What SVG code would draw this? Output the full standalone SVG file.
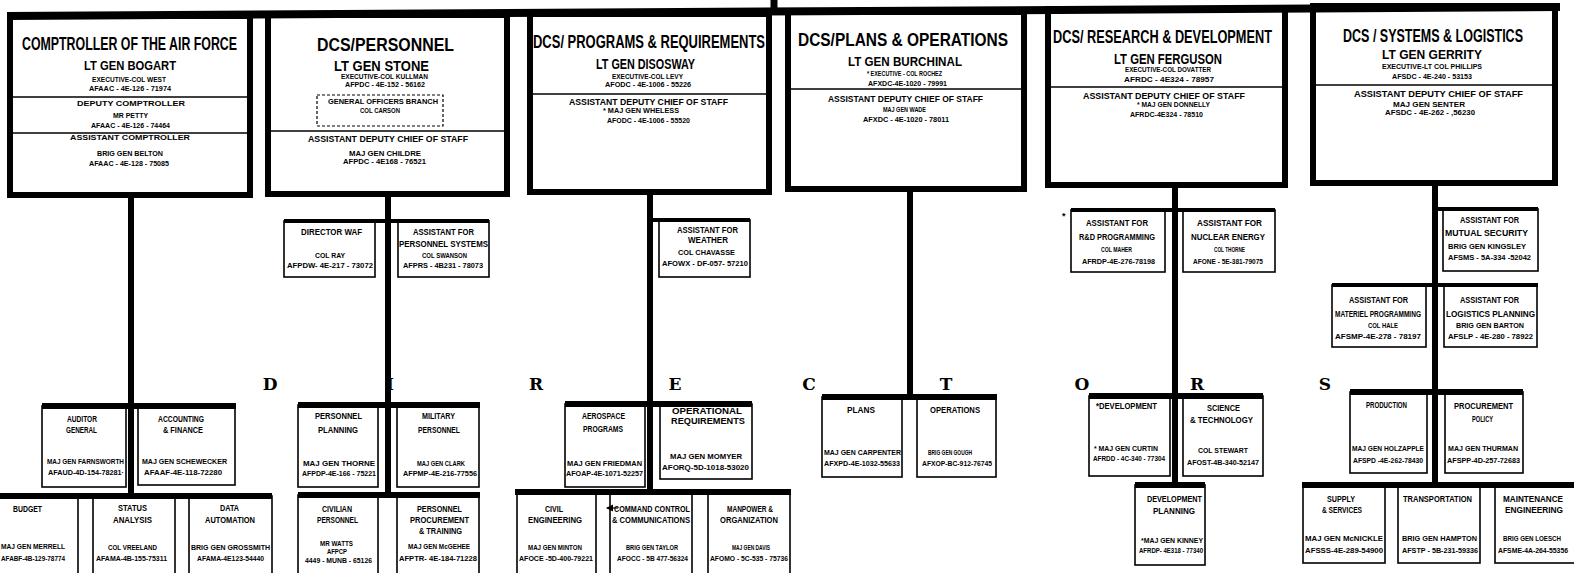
<svg xmlns="http://www.w3.org/2000/svg" width="1574" height="573" viewBox="0 0 1574 573">
<style>
.big{fill:#fff;stroke:#000;stroke-width:6}
.box{fill:#fff;stroke:#000;stroke-width:1.6}
.div{stroke:#000;stroke-width:1.5}
.dash{fill:none;stroke:#000;stroke-width:1.2;stroke-dasharray:3 2}
.bar{stroke:#000;stroke-width:6;fill:none}
.b4{stroke-width:4}
text{font-family:"Liberation Sans",Arial,sans-serif;font-weight:bold;fill:#000}
.T{font-size:12px}
.L{font-family:"DejaVu Serif","Liberation Serif",serif;font-size:17px;text-anchor:middle}
</style>
<defs>
<marker id="ah" markerWidth="6" markerHeight="6" refX="5" refY="3" orient="auto"><path d="M0,0 L6,3 L0,6 z" fill="#000"/></marker>
</defs>
<rect width="1574" height="573" fill="#fff"/>

<g id="comptroller">
<rect class="big" x="10" y="16" width="240" height="179"/>
<line class="div" x1="13" y1="97" x2="247" y2="97"/>
<line class="div" x1="13" y1="133" x2="247" y2="133"/>
<text class="T" transform="translate(22,50) scale(1,1.5)" textLength="215" lengthAdjust="spacingAndGlyphs">COMPTROLLER OF THE AIR FORCE</text>
<text x="84" y="70" font-size="13.5" textLength="92" lengthAdjust="spacingAndGlyphs">LT GEN BOGART</text>
<text x="92" y="82" font-size="7.5" textLength="74" lengthAdjust="spacingAndGlyphs">EXECUTIVE-COL WEST</text>
<text x="89" y="91" font-size="7.5" textLength="82" lengthAdjust="spacingAndGlyphs">AFAAC - 4E-126 - 71974</text>
<text x="77" y="106" font-size="8" textLength="108" lengthAdjust="spacingAndGlyphs">DEPUTY COMPTROLLER</text>
<text x="113" y="118" font-size="7" textLength="35" lengthAdjust="spacingAndGlyphs">MR PETTY</text>
<text x="91" y="128" font-size="7.5" textLength="79" lengthAdjust="spacingAndGlyphs">AFAAC - 4E-126 - 74464</text>
<text x="70" y="140" font-size="8" textLength="120" lengthAdjust="spacingAndGlyphs">ASSISTANT COMPTROLLER</text>
<text x="97" y="156" font-size="7" textLength="66" lengthAdjust="spacingAndGlyphs">BRIG GEN BELTON</text>
<text x="89" y="166" font-size="7.5" textLength="80" lengthAdjust="spacingAndGlyphs">AFAAC - 4E-128 - 75085</text>
</g>

<g id="personnel">
<rect class="big" x="268" y="15" width="239" height="179"/>
<rect class="dash" x="317" y="95" width="126" height="31"/>
<line class="div" x1="271" y1="131" x2="504" y2="131"/>
<text class="T" transform="translate(317,51) scale(1,1.6)" textLength="137" lengthAdjust="spacingAndGlyphs">DCS/PERSONNEL</text>
<text x="334" y="71" font-size="14" textLength="95" lengthAdjust="spacingAndGlyphs">LT GEN STONE</text>
<text x="341" y="79" font-size="7" textLength="87" lengthAdjust="spacingAndGlyphs">EXECUTIVE-COL KULLMAN</text>
<text x="345" y="87" font-size="7" textLength="80" lengthAdjust="spacingAndGlyphs">AFPDC - 4E-152 - 56162</text>
<text x="328" y="104" font-size="8" textLength="110" lengthAdjust="spacingAndGlyphs">GENERAL OFFICERS BRANCH</text>
<text x="360" y="113" font-size="7" textLength="40" lengthAdjust="spacingAndGlyphs">COL CARSON</text>
<text x="308" y="142" font-size="9" textLength="160" lengthAdjust="spacingAndGlyphs">ASSISTANT DEPUTY CHIEF OF STAFF</text>
<text x="349" y="156" font-size="7" textLength="72" lengthAdjust="spacingAndGlyphs">MAJ GEN CHILDRE</text>
<text x="343" y="164" font-size="7" textLength="83" lengthAdjust="spacingAndGlyphs">AFPDC - 4E168 - 76521</text>
</g>

<g id="programs">
<rect class="big" x="530" y="14" width="239" height="178"/>
<line class="div" x1="533" y1="94" x2="766" y2="94"/>
<text class="T" transform="translate(533,48) scale(1,1.6)" textLength="232" lengthAdjust="spacingAndGlyphs">DCS/ PROGRAMS &amp; REQUIREMENTS</text>
<text x="596" y="69" font-size="14" textLength="99" lengthAdjust="spacingAndGlyphs">LT GEN DISOSWAY</text>
<text x="612" y="79" font-size="7" textLength="71" lengthAdjust="spacingAndGlyphs">EXECUTIVE-COL LEVY</text>
<text x="605" y="87" font-size="7" textLength="86" lengthAdjust="spacingAndGlyphs">AFODC - 4E-1006 - 55226</text>
<text x="569" y="105" font-size="9" textLength="159" lengthAdjust="spacingAndGlyphs">ASSISTANT DEPUTY CHIEF OF STAFF</text>
<text x="603" y="113" font-size="7.5" textLength="76" lengthAdjust="spacingAndGlyphs">* MAJ GEN WHELESS</text>
<text x="607" y="123" font-size="7.5" textLength="83" lengthAdjust="spacingAndGlyphs">AFODC - 4E-1006 - 55520</text>
</g>

<g id="plans-operations">
<rect class="big" x="788" y="12" width="236" height="177"/>
<line class="div" x1="791" y1="89" x2="1021" y2="89"/>
<text class="T" transform="translate(798,46) scale(1,1.6)" textLength="210" lengthAdjust="spacingAndGlyphs">DCS/PLANS &amp; OPERATIONS</text>
<text x="848" y="66" font-size="13.5" textLength="114" lengthAdjust="spacingAndGlyphs">LT GEN BURCHINAL</text>
<text x="867" y="76" font-size="7" textLength="75" lengthAdjust="spacingAndGlyphs">* EXECUTIVE - COL ROCHEZ</text>
<text x="868" y="86" font-size="7.5" textLength="79" lengthAdjust="spacingAndGlyphs">AFXDC-4E-1020 - 79991</text>
<text x="828" y="102" font-size="9" textLength="155" lengthAdjust="spacingAndGlyphs">ASSISTANT DEPUTY CHIEF OF STAFF</text>
<text x="883" y="112" font-size="7" textLength="43" lengthAdjust="spacingAndGlyphs">MAJ GEN WADE</text>
<text x="863" y="122" font-size="7.5" textLength="86" lengthAdjust="spacingAndGlyphs">AFXDC - 4E-1020 - 78011</text>
</g>

<g id="research-development">
<rect class="big" x="1048" y="9" width="237" height="176"/>
<line class="div" x1="1051" y1="87" x2="1282" y2="87"/>
<text class="T" transform="translate(1053,43) scale(1,1.6)" textLength="219" lengthAdjust="spacingAndGlyphs">DCS/ RESEARCH &amp; DEVELOPMENT</text>
<text x="1114" y="64" font-size="14" textLength="108" lengthAdjust="spacingAndGlyphs">LT GEN FERGUSON</text>
<text x="1125" y="72" font-size="7" textLength="86" lengthAdjust="spacingAndGlyphs">EXECUTIVE-COL DOVATTER</text>
<text x="1124" y="82" font-size="7.5" textLength="90" lengthAdjust="spacingAndGlyphs">AFRDC - 4E324 - 78957</text>
<text x="1083" y="99" font-size="9" textLength="162" lengthAdjust="spacingAndGlyphs">ASSISTANT DEPUTY CHIEF OF STAFF</text>
<text x="1137" y="107" font-size="7.5" textLength="73" lengthAdjust="spacingAndGlyphs">* MAJ GEN DONNELLY</text>
<text x="1130" y="117" font-size="7.5" textLength="73" lengthAdjust="spacingAndGlyphs">AFRDC-4E324 - 78510</text>
</g>

<g id="systems-logistics">
<rect class="big" x="1313" y="6" width="242" height="177"/>
<line class="div" x1="1316" y1="85" x2="1552" y2="85"/>
<text class="T" transform="translate(1343,42) scale(1,1.55)" textLength="180" lengthAdjust="spacingAndGlyphs">DCS / SYSTEMS &amp; LOGISTICS</text>
<text x="1382" y="59" font-size="13" textLength="100" lengthAdjust="spacingAndGlyphs">LT GEN GERRITY</text>
<text x="1382" y="69" font-size="7.5" textLength="100" lengthAdjust="spacingAndGlyphs">EXECUTIVE-LT COL PHILLIPS</text>
<text x="1392" y="79" font-size="7.5" textLength="80" lengthAdjust="spacingAndGlyphs">AFSDC - 4E-240 - 53153</text>
<text x="1354" y="97" font-size="9" textLength="169" lengthAdjust="spacingAndGlyphs">ASSISTANT DEPUTY CHIEF OF STAFF</text>
<text x="1393" y="107" font-size="7" textLength="72" lengthAdjust="spacingAndGlyphs">MAJ GEN SENTER</text>
<text x="1385" y="115" font-size="7.5" textLength="90" lengthAdjust="spacingAndGlyphs">AFSDC - 4E-262 - ,56230</text>
</g>

<g id="director-waf">
<rect class="box" x="284" y="221" width="91" height="56"/>
<text x="301" y="235" font-size="9" textLength="61" lengthAdjust="spacingAndGlyphs">DIRECTOR WAF</text>
<text x="315" y="258" font-size="8" textLength="30" lengthAdjust="spacingAndGlyphs">COL RAY</text>
<text x="287" y="268" font-size="8" textLength="86" lengthAdjust="spacingAndGlyphs">AFPDW- 4E-217 - 73072</text>
</g>
<g id="asst-personnel-systems">
<rect class="box" x="398" y="221" width="91" height="56"/>
<text x="413" y="235" font-size="9" textLength="61" lengthAdjust="spacingAndGlyphs">ASSISTANT FOR</text>
<text x="399" y="247" font-size="9" textLength="89" lengthAdjust="spacingAndGlyphs">PERSONNEL SYSTEMS</text>
<text x="422" y="258" font-size="8" textLength="45" lengthAdjust="spacingAndGlyphs">COL SWANSON</text>
<text x="403" y="268" font-size="8" textLength="80" lengthAdjust="spacingAndGlyphs">AFPRS - 4B231 - 78073</text>
</g>
<g id="asst-weather">
<rect class="box" x="659" y="220" width="91" height="57"/>
<text x="677" y="233" font-size="9" textLength="61" lengthAdjust="spacingAndGlyphs">ASSISTANT FOR</text>
<text x="688" y="243" font-size="9" textLength="40" lengthAdjust="spacingAndGlyphs">WEATHER</text>
<text x="678" y="255" font-size="8" textLength="57" lengthAdjust="spacingAndGlyphs">COL CHAVASSE</text>
<text x="662" y="266" font-size="8" textLength="86" lengthAdjust="spacingAndGlyphs">AFOWX - DF-057- 57210</text>
</g>
<g id="asst-rd-programming">
<rect class="box" x="1071" y="210" width="94" height="62"/>
<text x="1062" y="219" font-size="9">*</text>
<text x="1086" y="226" font-size="9" textLength="62" lengthAdjust="spacingAndGlyphs">ASSISTANT FOR</text>
<text x="1079" y="240" font-size="9" textLength="76" lengthAdjust="spacingAndGlyphs">R&amp;D PROGRAMMING</text>
<text x="1101" y="252" font-size="7.5" textLength="31" lengthAdjust="spacingAndGlyphs">COL MAHER</text>
<text x="1082" y="264" font-size="8" textLength="73" lengthAdjust="spacingAndGlyphs">AFRDP-4E-276-78198</text>
</g>
<g id="asst-nuclear-energy">
<rect class="box" x="1183" y="210" width="92" height="62"/>
<text x="1197" y="226" font-size="9" textLength="65" lengthAdjust="spacingAndGlyphs">ASSISTANT FOR</text>
<text x="1191" y="240" font-size="9" textLength="74" lengthAdjust="spacingAndGlyphs">NUCLEAR ENERGY</text>
<text x="1214" y="252" font-size="7.5" textLength="31" lengthAdjust="spacingAndGlyphs">COL THORNE</text>
<text x="1193" y="264" font-size="8" textLength="70" lengthAdjust="spacingAndGlyphs">AFONE - 5E-381-79075</text>
</g>
<g id="asst-mutual-security">
<rect class="box" x="1443" y="209" width="95" height="62"/>
<text x="1460" y="223" font-size="9" textLength="59" lengthAdjust="spacingAndGlyphs">ASSISTANT FOR</text>
<text x="1445" y="236" font-size="9" textLength="83" lengthAdjust="spacingAndGlyphs">MUTUAL SECURITY</text>
<text x="1448" y="249" font-size="8" textLength="78" lengthAdjust="spacingAndGlyphs">BRIG GEN KINGSLEY</text>
<text x="1448" y="260" font-size="8" textLength="83" lengthAdjust="spacingAndGlyphs">AFSMS - 5A-334 -52042</text>
</g>
<g id="asst-materiel-programming">
<rect class="box" x="1332" y="285" width="94" height="62"/>
<text x="1349" y="303" font-size="9" textLength="59" lengthAdjust="spacingAndGlyphs">ASSISTANT FOR</text>
<text x="1335" y="317" font-size="9" textLength="86" lengthAdjust="spacingAndGlyphs">MATERIEL PROGRAMMING</text>
<text x="1368" y="328" font-size="8" textLength="30" lengthAdjust="spacingAndGlyphs">COL HALE</text>
<text x="1335" y="339" font-size="8" textLength="86" lengthAdjust="spacingAndGlyphs">AFSMP-4E-278 - 78197</text>
</g>
<g id="asst-logistics-planning">
<rect class="box" x="1444" y="285" width="93" height="62"/>
<text x="1460" y="303" font-size="9" textLength="59" lengthAdjust="spacingAndGlyphs">ASSISTANT FOR</text>
<text x="1446" y="317" font-size="9" textLength="89" lengthAdjust="spacingAndGlyphs">LOGISTICS PLANNING</text>
<text x="1456" y="328" font-size="8" textLength="68" lengthAdjust="spacingAndGlyphs">BRIG GEN BARTON</text>
<text x="1448" y="339" font-size="8" textLength="85" lengthAdjust="spacingAndGlyphs">AFSLP - 4E-280 - 78922</text>
</g>

<g id="directors-label">
<text class="L" x="270" y="390">D</text>
<text class="L" x="390" y="390">I</text>
<text class="L" x="536" y="390">R</text>
<text class="L" x="675" y="390">E</text>
<text class="L" x="809" y="390">C</text>
<text class="L" x="946" y="390">T</text>
<text class="L" x="1082" y="390">O</text>
<text class="L" x="1197" y="390">R</text>
<text class="L" x="1325" y="390">S</text>
</g>

<g id="auditor-general">
<rect class="box" x="42" y="406" width="84" height="81"/>
<text x="67" y="422" font-size="9" textLength="30" lengthAdjust="spacingAndGlyphs">AUDITOR</text>
<text x="66" y="433" font-size="9" textLength="31" lengthAdjust="spacingAndGlyphs">GENERAL</text>
<text x="47" y="464" font-size="8" textLength="77" lengthAdjust="spacingAndGlyphs">MAJ GEN FARNSWORTH</text>
<text x="48" y="475" font-size="8" textLength="76" lengthAdjust="spacingAndGlyphs">AFAUD-4D-154-78281·</text>
</g>
<g id="accounting-finance">
<rect class="box" x="138" y="406" width="97" height="79"/>
<text x="158" y="422" font-size="9" textLength="46" lengthAdjust="spacingAndGlyphs">ACCOUNTING</text>
<text x="163" y="433" font-size="9" textLength="40" lengthAdjust="spacingAndGlyphs">&amp; FINANCE</text>
<text x="142" y="464" font-size="8" textLength="85" lengthAdjust="spacingAndGlyphs">MAJ GEN SCHEWECKER</text>
<text x="144" y="475" font-size="8" textLength="78" lengthAdjust="spacingAndGlyphs">AFAAF-4E-118-72280</text>
</g>
<g id="budget">
<rect class="box" x="-3" y="496" width="81" height="90"/>
<text x="13" y="512" font-size="9" textLength="29" lengthAdjust="spacingAndGlyphs">BUDGET</text>
<text x="1" y="549" font-size="8" textLength="64" lengthAdjust="spacingAndGlyphs">MAJ GEN MERRELL</text>
<text x="1" y="561" font-size="8" textLength="64" lengthAdjust="spacingAndGlyphs">AFABF-4B-129-78774</text>
</g>
<g id="status-analysis">
<rect class="box" x="93" y="496" width="82" height="90"/>
<text x="118" y="511" font-size="9" textLength="29" lengthAdjust="spacingAndGlyphs">STATUS</text>
<text x="113" y="523" font-size="9" textLength="39" lengthAdjust="spacingAndGlyphs">ANALYSIS</text>
<text x="108" y="550" font-size="8" textLength="49" lengthAdjust="spacingAndGlyphs">COL VREELAND</text>
<text x="96" y="561" font-size="8" textLength="71" lengthAdjust="spacingAndGlyphs">AFAMA-4B-155-75311</text>
</g>
<g id="data-automation">
<rect class="box" x="189" y="496" width="83" height="90"/>
<text x="220" y="511" font-size="9" textLength="19" lengthAdjust="spacingAndGlyphs">DATA</text>
<text x="205" y="523" font-size="9" textLength="50" lengthAdjust="spacingAndGlyphs">AUTOMATION</text>
<text x="191" y="550" font-size="8" textLength="79" lengthAdjust="spacingAndGlyphs">BRIG GEN GROSSMITH</text>
<text x="197" y="561" font-size="8" textLength="67" lengthAdjust="spacingAndGlyphs">AFAMA-4E123-54440</text>
</g>

<g id="personnel-planning">
<rect class="box" x="298" y="405" width="80" height="82"/>
<text x="315" y="419" font-size="9" textLength="47" lengthAdjust="spacingAndGlyphs">PERSONNEL</text>
<text x="318" y="433" font-size="9" textLength="40" lengthAdjust="spacingAndGlyphs">PLANNING</text>
<text x="303" y="466" font-size="8" textLength="72" lengthAdjust="spacingAndGlyphs">MAJ GEN THORNE</text>
<text x="302" y="476" font-size="8" textLength="74" lengthAdjust="spacingAndGlyphs">AFPDP-4E-166 - 75221</text>
</g>
<g id="military-personnel">
<rect class="box" x="397" y="405" width="82" height="82"/>
<text x="422" y="419" font-size="9" textLength="33" lengthAdjust="spacingAndGlyphs">MILITARY</text>
<text x="418" y="433" font-size="9" textLength="42" lengthAdjust="spacingAndGlyphs">PERSONNEL</text>
<text x="417" y="466" font-size="8" textLength="48" lengthAdjust="spacingAndGlyphs">MAJ GEN CLARK</text>
<text x="403" y="476" font-size="8" textLength="74" lengthAdjust="spacingAndGlyphs">AFPMP-4E-216-77556</text>
</g>
<g id="civilian-personnel">
<rect class="box" x="298" y="495" width="80" height="90"/>
<text x="322" y="512" font-size="9" textLength="30" lengthAdjust="spacingAndGlyphs">CIVILIAN</text>
<text x="317" y="523" font-size="9" textLength="41" lengthAdjust="spacingAndGlyphs">PERSONNEL</text>
<text x="320" y="546" font-size="8" textLength="33" lengthAdjust="spacingAndGlyphs">MR WATTS</text>
<text x="327" y="554" font-size="8" textLength="20" lengthAdjust="spacingAndGlyphs">AFPCP</text>
<text x="305" y="563" font-size="8" textLength="67" lengthAdjust="spacingAndGlyphs">4449 - MUNB - 65126</text>
</g>
<g id="personnel-procurement-training">
<rect class="box" x="397" y="495" width="82" height="90"/>
<text x="417" y="512" font-size="9" textLength="45" lengthAdjust="spacingAndGlyphs">PERSONNEL</text>
<text x="410" y="523" font-size="9" textLength="59" lengthAdjust="spacingAndGlyphs">PROCUREMENT</text>
<text x="419" y="534" font-size="9" textLength="43" lengthAdjust="spacingAndGlyphs">&amp; TRAINING</text>
<text x="408" y="549" font-size="8" textLength="62" lengthAdjust="spacingAndGlyphs">MAJ GEN McGEHEE</text>
<text x="399" y="561" font-size="8" textLength="78" lengthAdjust="spacingAndGlyphs">AFPTR- 4E-184-71228</text>
</g>

<g id="aerospace-programs">
<rect class="box" x="565" y="404" width="80" height="83"/>
<text x="582" y="419" font-size="9" textLength="43" lengthAdjust="spacingAndGlyphs">AEROSPACE</text>
<text x="583" y="432" font-size="9" textLength="40" lengthAdjust="spacingAndGlyphs">PROGRAMS</text>
<text x="567" y="466" font-size="8" textLength="75" lengthAdjust="spacingAndGlyphs">MAJ GEN FRIEDMAN</text>
<text x="566" y="476" font-size="8" textLength="77" lengthAdjust="spacingAndGlyphs">AFOAP-4E-1071-52257</text>
</g>
<g id="operational-requirements">
<rect class="box" x="660" y="404" width="92" height="75"/>
<text x="672" y="414" font-size="9" textLength="70" lengthAdjust="spacingAndGlyphs">OPERATIONAL</text>
<text x="671" y="424" font-size="9" textLength="74" lengthAdjust="spacingAndGlyphs">REQUIREMENTS</text>
<text x="670" y="459" font-size="8" textLength="72" lengthAdjust="spacingAndGlyphs">MAJ GEN MOMYER</text>
<text x="662" y="470" font-size="8" textLength="87" lengthAdjust="spacingAndGlyphs">AFORQ-5D-1018-53020</text>
</g>
<g id="civil-engineering">
<rect class="box" x="517" y="492" width="79" height="95"/>
<text x="545" y="512" font-size="9" textLength="18" lengthAdjust="spacingAndGlyphs">CIVIL</text>
<text x="528" y="523" font-size="9" textLength="54" lengthAdjust="spacingAndGlyphs">ENGINEERING</text>
<text x="528" y="550" font-size="8" textLength="54" lengthAdjust="spacingAndGlyphs">MAJ GEN MINTON</text>
<text x="519" y="561" font-size="8" textLength="74" lengthAdjust="spacingAndGlyphs">AFOCE -5D-400-79221</text>
</g>
<g id="command-control-communications">
<rect class="box" x="610" y="492" width="82" height="95"/>
<text x="614" y="512" font-size="9" textLength="76" lengthAdjust="spacingAndGlyphs">COMMAND CONTROL</text>
<text x="612" y="523" font-size="9" textLength="78" lengthAdjust="spacingAndGlyphs">&amp; COMMUNICATIONS</text>
<text x="626" y="550" font-size="8" textLength="52" lengthAdjust="spacingAndGlyphs">BRIG GEN TAYLOR</text>
<text x="617" y="561" font-size="8" textLength="71" lengthAdjust="spacingAndGlyphs">AFOCC - 5B 477-56324</text>
</g>
<g id="manpower-organization">
<rect class="box" x="708" y="492" width="82" height="95"/>
<text x="727" y="512" font-size="9" textLength="46" lengthAdjust="spacingAndGlyphs">MANPOWER &amp;</text>
<text x="720" y="523" font-size="9" textLength="58" lengthAdjust="spacingAndGlyphs">ORGANIZATION</text>
<text x="732" y="550" font-size="8" textLength="38" lengthAdjust="spacingAndGlyphs">MAJ GEN DAVIS</text>
<text x="710" y="561" font-size="8" textLength="78" lengthAdjust="spacingAndGlyphs">AFOMO - 5C-535 - 75736</text>
</g>

<g id="plans">
<rect class="box" x="822" y="397" width="80" height="80"/>
<text x="847" y="413" font-size="9" textLength="28" lengthAdjust="spacingAndGlyphs">PLANS</text>
<text x="824" y="455" font-size="8" textLength="77" lengthAdjust="spacingAndGlyphs">MAJ GEN CARPENTER</text>
<text x="824" y="466" font-size="8" textLength="76" lengthAdjust="spacingAndGlyphs">AFXPD-4E-1032-55633</text>
</g>
<g id="operations">
<rect class="box" x="917" y="397" width="79" height="80"/>
<text x="930" y="413" font-size="9" textLength="50" lengthAdjust="spacingAndGlyphs">OPERATIONS</text>
<text x="928" y="455" font-size="8" textLength="44" lengthAdjust="spacingAndGlyphs">BRIG GEN GOUGH</text>
<text x="922" y="466" font-size="8" textLength="70" lengthAdjust="spacingAndGlyphs">AFXOP-BC-912-76745</text>
</g>

<g id="development">
<rect class="box" x="1089" y="396" width="81" height="80"/>
<text x="1096" y="409" font-size="9" textLength="61" lengthAdjust="spacingAndGlyphs">*DEVELOPMENT</text>
<text x="1094" y="451" font-size="8" textLength="64" lengthAdjust="spacingAndGlyphs">* MAJ GEN CURTIN</text>
<text x="1093" y="461" font-size="8" textLength="72" lengthAdjust="spacingAndGlyphs">AFRDD - 4C-340 - 77304</text>
</g>
<g id="science-technology">
<rect class="box" x="1183" y="396" width="80" height="80"/>
<text x="1207" y="411" font-size="9" textLength="33" lengthAdjust="spacingAndGlyphs">SCIENCE</text>
<text x="1190" y="423" font-size="9" textLength="63" lengthAdjust="spacingAndGlyphs">&amp; TECHNOLOGY</text>
<text x="1198" y="453" font-size="8" textLength="50" lengthAdjust="spacingAndGlyphs">COL STEWART</text>
<text x="1187" y="465" font-size="8" textLength="72" lengthAdjust="spacingAndGlyphs">AFOST-4B-340-52147</text>
</g>
<g id="development-planning">
<rect class="box" x="1135" y="485" width="70" height="80"/>
<text x="1147" y="502" font-size="9" textLength="55" lengthAdjust="spacingAndGlyphs">DEVELOPMENT</text>
<text x="1153" y="514" font-size="9" textLength="42" lengthAdjust="spacingAndGlyphs">PLANNING</text>
<text x="1141" y="543" font-size="8" textLength="62" lengthAdjust="spacingAndGlyphs">*MAJ GEN KINNEY</text>
<text x="1139" y="553" font-size="8" textLength="64" lengthAdjust="spacingAndGlyphs">AFRDP- 4E318 - 77340</text>
</g>

<g id="production">
<rect class="box" x="1350" y="392" width="77" height="81"/>
<text x="1366" y="408" font-size="9" textLength="41" lengthAdjust="spacingAndGlyphs">PRODUCTION</text>
<text x="1352" y="451" font-size="8" textLength="72" lengthAdjust="spacingAndGlyphs">MAJ GEN HOLZAPPLE</text>
<text x="1353" y="463" font-size="8" textLength="70" lengthAdjust="spacingAndGlyphs">AFSPD -4E-262-78430</text>
</g>
<g id="procurement-policy">
<rect class="box" x="1445" y="392" width="78" height="81"/>
<text x="1454" y="409" font-size="9" textLength="59" lengthAdjust="spacingAndGlyphs">PROCUREMENT</text>
<text x="1472" y="422" font-size="9" textLength="21" lengthAdjust="spacingAndGlyphs">POLICY</text>
<text x="1448" y="451" font-size="8" textLength="70" lengthAdjust="spacingAndGlyphs">MAJ GEN THURMAN</text>
<text x="1447" y="463" font-size="8" textLength="73" lengthAdjust="spacingAndGlyphs">AFSPP-4D-257-72683</text>
</g>
<g id="supply-services">
<rect class="box" x="1303" y="485" width="82" height="78"/>
<text x="1327" y="502" font-size="9" textLength="28" lengthAdjust="spacingAndGlyphs">SUPPLY</text>
<text x="1322" y="513" font-size="9" textLength="40" lengthAdjust="spacingAndGlyphs">&amp; SERVICES</text>
<text x="1305" y="541" font-size="8" textLength="78" lengthAdjust="spacingAndGlyphs">MAJ GEN McNICKLE</text>
<text x="1305" y="553" font-size="8" textLength="78" lengthAdjust="spacingAndGlyphs">AFSSS-4E-289-54900</text>
</g>
<g id="transportation">
<rect class="box" x="1398" y="485" width="82" height="78"/>
<text x="1403" y="502" font-size="9" textLength="69" lengthAdjust="spacingAndGlyphs">TRANSPORTATION</text>
<text x="1402" y="541" font-size="8" textLength="75" lengthAdjust="spacingAndGlyphs">BRIG GEN HAMPTON</text>
<text x="1402" y="553" font-size="8" textLength="76" lengthAdjust="spacingAndGlyphs">AFSTP - 5B-231-59336</text>
</g>
<g id="maintenance-engineering">
<rect class="box" x="1495" y="485" width="85" height="78"/>
<text x="1503" y="502" font-size="9" textLength="60" lengthAdjust="spacingAndGlyphs">MAINTENANCE</text>
<text x="1505" y="513" font-size="9" textLength="58" lengthAdjust="spacingAndGlyphs">ENGINEERING</text>
<text x="1503" y="541" font-size="7" textLength="58" lengthAdjust="spacingAndGlyphs">BRIG GEN LOESCH</text>
<text x="1498" y="553" font-size="7" textLength="70" lengthAdjust="spacingAndGlyphs">AFSME-4A-264-55356</text>
</g>

<g id="connectors">
<line class="bar" x1="7" y1="16" x2="1560" y2="7" style="stroke-width:8"/>
<line class="bar" x1="774" y1="0" x2="774" y2="13" style="stroke-width:7"/>
<line class="bar" x1="131" y1="195" x2="131" y2="499"/>
<line class="bar" x1="388" y1="194" x2="388" y2="498"/>
<line class="bar" x1="650" y1="192" x2="650" y2="495"/>
<line class="bar" x1="910" y1="189" x2="910" y2="400"/>
<line class="bar" x1="1175" y1="185" x2="1175" y2="487"/>
<line class="bar" x1="1435" y1="183" x2="1435" y2="488"/>
<line class="bar" x1="42" y1="406" x2="236" y2="406"/>
<line class="bar" x1="0" y1="496" x2="272" y2="496"/>
<line class="bar b4" x1="284" y1="221" x2="489" y2="221"/>
<line class="bar b4" x1="650" y1="220" x2="750" y2="220"/>
<line class="bar" x1="298" y1="405" x2="480" y2="405"/>
<line class="bar" x1="298" y1="495" x2="480" y2="495"/>
<line class="bar" x1="565" y1="404" x2="752" y2="404"/>
<line class="bar" x1="515" y1="492" x2="791" y2="492"/>
<line class="bar" x1="822" y1="397" x2="997" y2="397"/>
<line class="bar b4" x1="1071" y1="210" x2="1275" y2="210"/>
<line class="bar" x1="1089" y1="396" x2="1263" y2="396"/>
<line class="bar" x1="1135" y1="485" x2="1205" y2="485"/>
<line class="bar b4" x1="1435" y1="209" x2="1538" y2="209"/>
<line class="bar b4" x1="1332" y1="285" x2="1538" y2="285"/>
<line class="bar" x1="1350" y1="392" x2="1523" y2="392"/>
<line class="bar" x1="1302" y1="485" x2="1574" y2="485"/>
<line x1="618" y1="508" x2="607" y2="508" stroke="#000" stroke-width="1.2" marker-end="url(#ah)"/>
</g>
</svg>
